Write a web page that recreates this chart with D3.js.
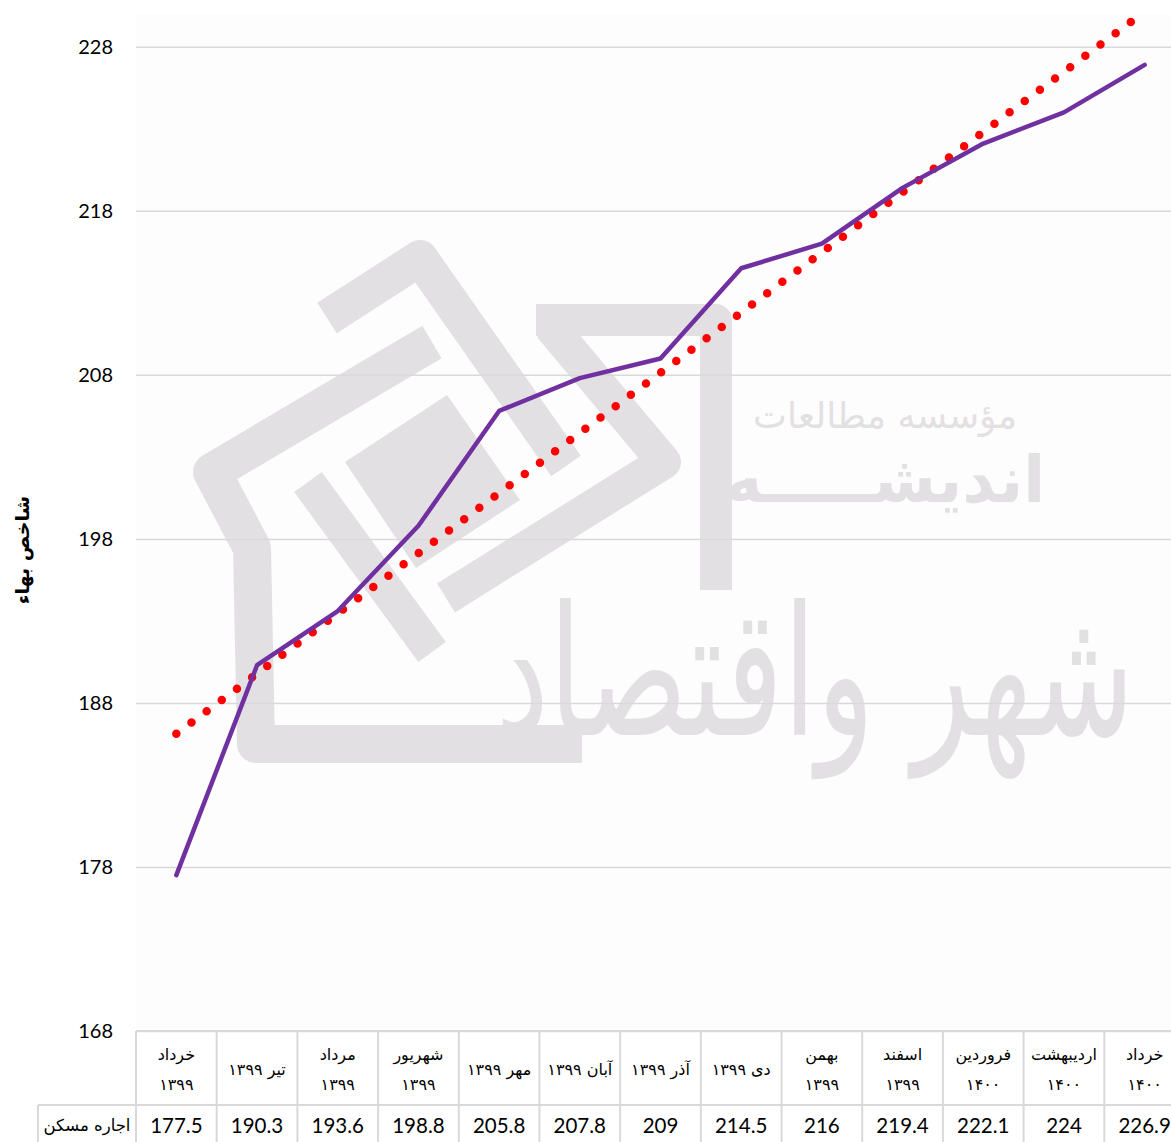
<!DOCTYPE html>
<html>
<head>
<meta charset="utf-8">
<script src="https://cdn.jsdelivr.net/npm/d3@7"></script>
<style>
  html, body { margin: 0; padding: 0; background: #ffffff; }
  svg { display: block; }
</style>
</head>
<body>
<svg id="chart" width="1171" height="1142"></svg>
<script>
// ---------------- DATA ----------------
const categoryLines = [
  ["خرداد", "۱۳۹۹"],
  ["تیر ۱۳۹۹"],
  ["مرداد", "۱۳۹۹"],
  ["شهریور", "۱۳۹۹"],
  ["مهر ۱۳۹۹"],
  ["آبان ۱۳۹۹"],
  ["آذر ۱۳۹۹"],
  ["دی ۱۳۹۹"],
  ["بهمن", "۱۳۹۹"],
  ["اسفند", "۱۳۹۹"],
  ["فروردین", "۱۴۰۰"],
  ["اردیبهشت", "۱۴۰۰"],
  ["خرداد", "۱۴۰۰"]
];
const seriesName = "اجاره مسکن";
const values = [177.5, 190.3, 193.6, 198.8, 205.8, 207.8, 209, 214.5, 216, 219.4, 222.1, 224, 226.9];
const yTicks = [168, 178, 188, 198, 208, 218, 228];
const yTitle = "شاخص بهاء";
const yDomain = [168, 230];

// ---------------- LAYOUT ----------------
const svg = d3.select("#chart");
const plot = { left: 136, right: 1185, top: 14, bottom: 1031 };
const tableRow1Bottom = 1105;
const tableBottom = 1160;
const labelCellLeft = 38;

const idx = d3.range(values.length);
const x = d3.scaleBand().domain(idx).range([plot.left, plot.right]).padding(0);
const y = d3.scaleLinear().domain(yDomain).range([plot.bottom, plot.top]);
const cx = i => x(i) + x.bandwidth() / 2;

// plot background
svg.append("rect")
  .attr("x", plot.left).attr("y", plot.top)
  .attr("width", plot.right - plot.left).attr("height", plot.bottom - plot.top)
  .attr("fill", "#fdfdfd");

// ---------------- WATERMARK (decorative) ----------------
const wm = svg.append("g").attr("class", "watermark");
const wmColor = "#e3e0e3";
const wmPaths = [
  { d: "M327,318 L420,258 L566,466", w: 36 },
  { d: "M432,342 L212,472 L252,548 L256,744 L582,744", w: 38 },
  { d: "M308,482 L432,652", w: 34 },
  { d: "M536,320 L716,320 L716,590", w: 32 },
  { d: "M550,326 L664,462 L446,598", w: 34 }
];
wm.selectAll("path.wmline").data(wmPaths).join("path")
  .attr("class", "wmline")
  .attr("d", d => d.d)
  .attr("fill", "none")
  .attr("stroke", wmColor)
  .attr("stroke-width", d => d.w)
  .attr("stroke-linejoin", "round");
wm.append("path")
  .attr("d", "M345,462 L447,395 L520,500 L416,568 Z")
  .attr("fill", wmColor);
wm.append("text")
  .attr("x", 885).attr("y", 428)
  .attr("text-anchor", "middle")
  .attr("font-family", "DejaVu Sans, sans-serif")
  .attr("font-size", 36)
  .attr("fill", wmColor)
  .text("مؤسسه مطالعات");
wm.append("text")
  .attr("x", 885).attr("y", 502)
  .attr("text-anchor", "middle")
  .attr("font-family", "DejaVu Sans, sans-serif")
  .attr("font-weight", "bold")
  .attr("font-size", 64)
  .attr("fill", wmColor)
  .text("اندیشـــــه");
wm.append("text")
  .attr("transform", "translate(815,735) scale(1,1.5)")
  .attr("x", 0).attr("y", 0)
  .attr("text-anchor", "middle")
  .attr("font-family", "DejaVu Sans, sans-serif")
  .attr("font-size", 120)
  .attr("fill", wmColor)
  .text("شهر واقتصاد");

// ---------------- GRID + Y AXIS ----------------
const gridG = svg.append("g")
  .attr("transform", `translate(${plot.left},0)`)
  .call(d3.axisLeft(y).tickValues(yTicks).tickSize(-(plot.right - plot.left)).tickFormat(""));
gridG.select(".domain").remove();
gridG.selectAll(".tick line").attr("stroke", "#d9d9d9").attr("stroke-width", 1.5);

const yAxisG = svg.append("g")
  .attr("transform", `translate(${plot.left},0)`)
  .call(d3.axisLeft(y).tickValues(yTicks).tickSize(0).tickPadding(23).tickFormat(d3.format("d")));
yAxisG.select(".domain").remove();
yAxisG.selectAll(".tick text")
  .attr("font-family", "Lato, 'Open Sans', sans-serif")
  .attr("font-size", 20)
  .attr("fill", "#000");

// Y title
svg.append("text")
  .attr("transform", "translate(22,550) rotate(-90)")
  .attr("text-anchor", "middle")
  .attr("dominant-baseline", "central")
  .attr("font-family", "DejaVu Sans, sans-serif")
  .attr("font-weight", "bold")
  .attr("font-size", 19)
  .attr("fill", "#000")
  .text(yTitle);

// ---------------- LINES ----------------
svg.append("clipPath").attr("id", "plotClip")
  .append("rect")
  .attr("x", plot.left).attr("y", plot.top)
  .attr("width", plot.right - plot.left).attr("height", plot.bottom - plot.top);

// linear trend (least squares over category index)
const mx = d3.mean(idx), my = d3.mean(values);
const slope = d3.sum(idx, i => (i - mx) * (values[i] - my)) / d3.sum(idx, i => (i - mx) * (i - mx));
const intercept = my - slope * mx;
const trendPts = [0, values.length - 1].map(i => [i, intercept + slope * i]);

const lineGen = d3.line().x(d => cx(d[0])).y(d => y(d[1]));

svg.append("path")
  .attr("clip-path", "url(#plotClip)")
  .attr("d", lineGen(trendPts))
  .attr("fill", "none")
  .attr("stroke", "#ff0000")
  .attr("stroke-width", 8.5)
  .attr("stroke-linecap", "round")
  .attr("stroke-dasharray", "0 18.9");

svg.append("path")
  .attr("d", lineGen(values.map((v, i) => [i, v])))
  .attr("fill", "none")
  .attr("stroke", "#7030a0")
  .attr("stroke-width", 4.5)
  .attr("stroke-linejoin", "round")
  .attr("stroke-linecap", "round");

// ---------------- DATA TABLE ----------------
const tbl = svg.append("g");
const gridStroke = "#d9d9d9";
tbl.append("line").attr("x1", plot.left).attr("x2", plot.right)
  .attr("y1", plot.bottom).attr("y2", plot.bottom)
  .attr("stroke", gridStroke).attr("stroke-width", 2);
tbl.append("line").attr("x1", labelCellLeft).attr("x2", plot.right)
  .attr("y1", tableRow1Bottom).attr("y2", tableRow1Bottom)
  .attr("stroke", gridStroke).attr("stroke-width", 2);
const vlines = idx.map(i => x(i)).concat([plot.right]);
tbl.selectAll("line.v").data(vlines).join("line")
  .attr("class", "v")
  .attr("x1", d => d).attr("x2", d => d)
  .attr("y1", plot.bottom).attr("y2", tableBottom)
  .attr("stroke", gridStroke).attr("stroke-width", 2);
tbl.append("line").attr("x1", labelCellLeft).attr("x2", labelCellLeft)
  .attr("y1", tableRow1Bottom).attr("y2", tableBottom)
  .attr("stroke", gridStroke).attr("stroke-width", 2);

// category labels
const catG = tbl.selectAll("g.cat").data(idx).join("g").attr("class", "cat");
catG.each(function(i) {
  const lines = categoryLines[i];
  const g = d3.select(this);
  const baselines = lines.length === 2 ? [1060, 1090] : [1075];
  lines.forEach((t, k) => {
    g.append("text")
      .attr("x", cx(i))
      .attr("y", baselines[k])
      .attr("text-anchor", "middle")
      .attr("direction", "rtl")
      .attr("font-family", "DejaVu Sans, sans-serif")
      .attr("font-size", 16)
      .attr("fill", "#000")
      .text(t);
  });
});

// values row
tbl.selectAll("text.val").data(values).join("text")
  .attr("class", "val")
  .attr("x", (d, i) => cx(i))
  .attr("y", 1133)
  .attr("text-anchor", "middle")
  .attr("font-family", "Lato, 'Open Sans', sans-serif")
  .attr("font-size", 20.5)
  .attr("fill", "#000")
  .text(d => d);

tbl.append("text")
  .attr("x", (labelCellLeft + plot.left) / 2)
  .attr("y", 1131)
  .attr("text-anchor", "middle")
  .attr("font-family", "DejaVu Sans, sans-serif")
  .attr("font-size", 16.5)
  .attr("fill", "#000")
  .text(seriesName);
</script>
</body>
</html>
